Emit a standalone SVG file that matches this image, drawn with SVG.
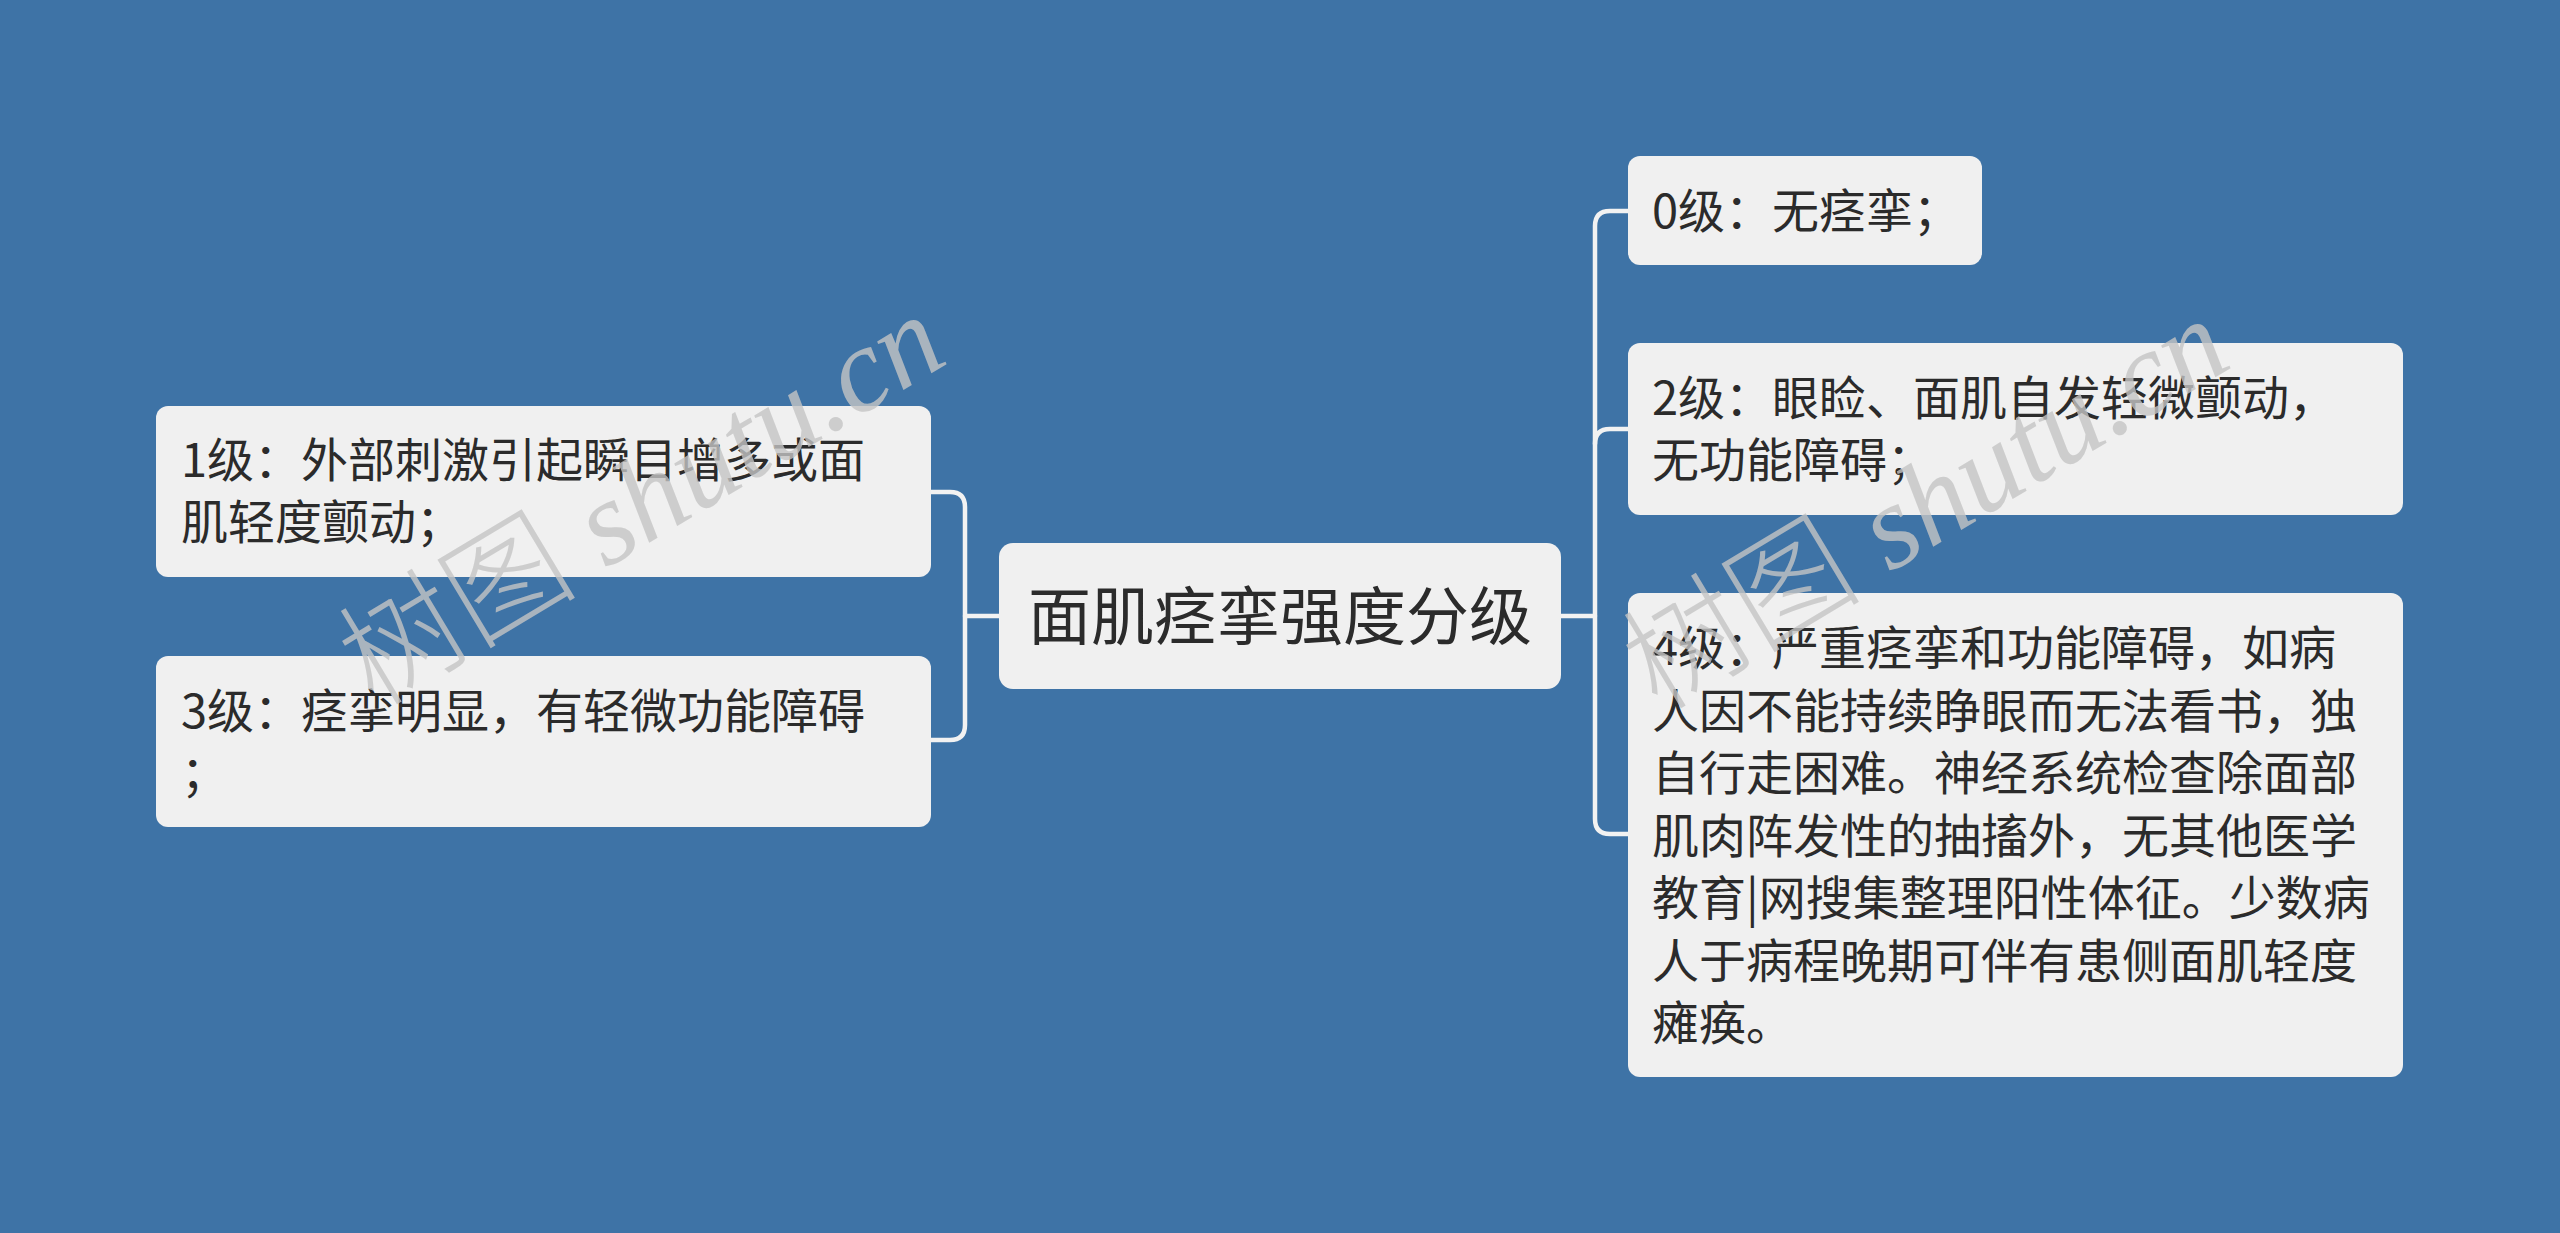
<svg xmlns="http://www.w3.org/2000/svg" width="2560" height="1233" viewBox="0 0 2560 1233">
<style>
.bg{fill:#3e73a6}
.box{fill:#f0f0f0}
.t{font-family:"Noto Sans CJK SC","Noto Sans",sans-serif;font-size:47px;fill:#2b2b2b}
.tc{font-family:"Noto Sans CJK SC","Noto Sans",sans-serif;font-size:63px;fill:#2b2b2b;text-anchor:middle}
.ln{fill:none;stroke:#f2f2f2;stroke-width:4.5;stroke-linecap:round}
.wm{font-size:120px;fill:#c4c4c4;fill-opacity:0.8}
.wmc{font-family:"Noto Sans CJK SC",sans-serif;font-weight:300}
.wml{font-family:"Liberation Serif",serif;font-style:italic}
</style>
<rect class="bg" x="0" y="0" width="2560" height="1233"/>
<g id="connectors">
<path class="ln" d="M999,616 H965"/>
<path class="ln" d="M931,492 H950 Q965,492 965,507 V725 Q965,740 950,740 H931"/>
<path class="ln" d="M1561,616 H1595"/>
<path class="ln" d="M1628,211 H1610 Q1595,211 1595,226 V819 Q1595,834 1610,834 H1628"/>
<path class="ln" d="M1595,444 Q1595,429 1610,429 H1628"/>
</g>
<g id="root">
<rect class="box" x="999" y="543" width="562" height="146" rx="14"/>
<text class="tc" x="1280" y="639">面肌痉挛强度分级</text>
</g>
<g id="n1">
<rect class="box" x="156" y="406" width="775" height="171" rx="12"/>
<text class="t" x="181" y="477">1级：外部刺激引起瞬目增多或面</text>
<text class="t" x="181" y="539">肌轻度颤动；</text>
</g>
<g id="n3">
<rect class="box" x="156" y="656" width="775" height="171" rx="12"/>
<text class="t" x="181" y="728">3级：痉挛明显，有轻微功能障碍</text>
<text class="t" x="181" y="790">；</text>
</g>
<g id="n0">
<rect class="box" x="1628" y="156" width="354" height="109" rx="12"/>
<text class="t" x="1652" y="228">0级：无痉挛；</text>
</g>
<g id="n2">
<rect class="box" x="1628" y="343" width="775" height="172" rx="12"/>
<text class="t" x="1652" y="415">2级：眼睑、面肌自发轻微颤动，</text>
<text class="t" x="1652" y="477">无功能障碍；</text>
</g>
<g id="n4">
<rect class="box" x="1628" y="593" width="775" height="484" rx="12"/>
<text class="t" x="1652" y="665">4级：严重痉挛和功能障碍，如病</text>
<text class="t" x="1652" y="727.5">人因不能持续睁眼而无法看书，独</text>
<text class="t" x="1652" y="790">自行走困难。神经系统检查除面部</text>
<text class="t" x="1652" y="852.5">肌肉阵发性的抽搐外，无其他医学</text>
<text class="t" x="1652" y="915">教育|网搜集整理阳性体征。少数病</text>
<text class="t" x="1652" y="977.5">人于病程晚期可伴有患侧面肌轻度</text>
<text class="t" x="1652" y="1040">瘫痪。</text>
</g>
<g id="watermark">
<text class="wm" transform="translate(374,708) rotate(-31)"><tspan class="wmc">树图</tspan><tspan class="wml"> shutu.cn</tspan></text>
<text class="wm" transform="translate(1658,712) rotate(-31)"><tspan class="wmc">树图</tspan><tspan class="wml"> shutu.cn</tspan></text>
</g>
</svg>
